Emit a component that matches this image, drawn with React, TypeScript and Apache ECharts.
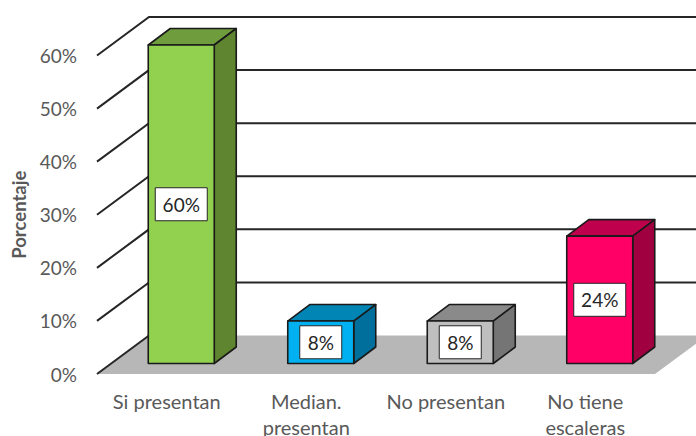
import React, { useEffect, useRef } from "react";
import * as echarts from "echarts";

const categories = ["Si presentan", "Median.\npresentan", "No presentan", "No tiene\nescaleras"];
const values = [60, 8, 8, 24];
const tickValues = [0, 10, 20, 30, 40, 50, 60];
const axisName = "Porcentaje";

const frontColors = ["#92d050", "#00b0f0", "#bfbfbf", "#ff0066"];
const topColors = ["#6f9c3d", "#0085b5", "#8a8a8a", "#bf004d"];
const sideColors = ["#5f8530", "#006f9b", "#757575", "#a00040"];

const WALL_DX = 52;
const WALL_DY = -38.5;
const BAR_DX = 22;
const BAR_DY = -16.5;
const BAR_W = 66;
const BAR_SHIFT_X = 14.5;
const BAR_SHIFT_Y = -10.5;
const LINE = "#262626";
const FONT = "Lato";

export default function App() {
  const ref = useRef<HTMLDivElement>(null);
  useEffect(() => {
    document.body.style.margin = "0";
    const chart = echarts.init(ref.current!, null, { renderer: "svg" });
    chart.setOption({
      animation: false,
      backgroundColor: "#ffffff",
      grid: { left: 97, right: 41, top: 55.5, bottom: 62, containLabel: false, outerBoundsMode: "none" },
      xAxis: {
        type: "category",
        data: categories,
        axisLine: { show: false },
        axisTick: { show: false },
        axisLabel: {
          color: "#595959",
          fontFamily: FONT,
          fontSize: 20,
          lineHeight: 26,
          margin: 14,
          interval: 0,
          hideOverlap: false,
        },
      },
      yAxis: {
        type: "value",
        min: 0,
        max: 60,
        interval: 10,
        name: axisName,
        nameLocation: "middle",
        nameGap: 68,
        nameTextStyle: { color: "#595959", fontFamily: FONT, fontSize: 18.5, fontWeight: "bold" },
        axisLine: { show: false },
        axisTick: { show: false },
        splitLine: { show: false },
        axisLabel: {
          color: "#595959",
          fontFamily: FONT,
          fontSize: 19,
          margin: 20,
          formatter: "{value}%",
        },
      },
      series: [
        {
          type: "custom",
          silent: true,
          clip: false,
          z: 1,
          data: [[0, 0]],
          renderItem: (params: any, api: any) => {
            const cs = params.coordSys;
            const y = cs.y + cs.height;
            const x0 = cs.x;
            const x1 = cs.x + cs.width;
            return {
              type: "polygon",
              shape: {
                points: [
                  [x0, y],
                  [x1, y],
                  [x1 + WALL_DX, y + WALL_DY],
                  [x0 + WALL_DX, y + WALL_DY],
                ],
              },
              style: { fill: "#b7b7b7", stroke: "none" },
            };
          },
        },
        {
          type: "custom",
          silent: true,
          clip: false,
          z: 2,
          data: tickValues.map((v) => [0, v]),
          renderItem: (params: any, api: any) => {
            const cs = params.coordSys;
            const v = api.value(1);
            const p = api.coord([0, v]);
            const x0 = cs.x;
            const y = p[1];
            const pts =
              v === 0
                ? [
                    [x0, y],
                    [x0 + WALL_DX, y + WALL_DY],
                  ]
                : [
                    [x0, y],
                    [x0 + WALL_DX, y + WALL_DY],
                    [cs.x + cs.width + WALL_DX, y + WALL_DY],
                  ];
            return {
              type: "polyline",
              shape: { points: pts },
              style: { stroke: LINE, lineWidth: 2, fill: "none" },
            };
          },
        },
        {
          type: "custom",
          silent: true,
          clip: false,
          z: 3,
          data: values.map((v, i) => [i, v]),
          renderItem: (params: any, api: any) => {
            const i = params.dataIndex;
            const v = api.value(1);
            const top = api.coord([i, v]);
            const bottom = api.coord([i, 0]);
            const x0 = top[0] + BAR_SHIFT_X - BAR_W / 2;
            const x1 = x0 + BAR_W;
            const y0 = top[1] + BAR_SHIFT_Y;
            const y1 = bottom[1] + BAR_SHIFT_Y;
            const edge = { stroke: "#1a1a1a", lineWidth: 1.6, lineJoin: "round" };
            const cx = (x0 + x1) / 2;
            const cy = (y0 + y1) / 2;
            const boxW = v >= 10 ? 52 : 42;
            const boxH = 33;
            return {
              type: "group",
              children: [
                {
                  type: "polygon",
                  shape: {
                    points: [
                      [x0, y0],
                      [x1, y0],
                      [x1 + BAR_DX, y0 + BAR_DY],
                      [x0 + BAR_DX, y0 + BAR_DY],
                    ],
                  },
                  style: { fill: topColors[i], ...edge },
                },
                {
                  type: "polygon",
                  shape: {
                    points: [
                      [x1, y0],
                      [x1 + BAR_DX, y0 + BAR_DY],
                      [x1 + BAR_DX, y1 + BAR_DY],
                      [x1, y1],
                    ],
                  },
                  style: { fill: sideColors[i], ...edge },
                },
                {
                  type: "rect",
                  shape: { x: x0, y: y0, width: BAR_W, height: y1 - y0 },
                  style: { fill: frontColors[i], ...edge },
                },
                {
                  type: "rect",
                  shape: { x: cx - boxW / 2, y: cy - boxH / 2, width: boxW, height: boxH },
                  style: { fill: "#ffffff", stroke: "#262626", lineWidth: 1 },
                },
                {
                  type: "text",
                  x: cx,
                  y: cy,
                  style: {
                    text: v + "%",
                    fill: "#262626",
                    font: "19px " + FONT,
                    textAlign: "center",
                    textVerticalAlign: "middle",
                  },
                },
              ],
            };
          },
        },
      ],
    });
    return () => chart.dispose();
  }, []);
  return <div ref={ref} style={{ width: 696, height: 436 }} />;
}
